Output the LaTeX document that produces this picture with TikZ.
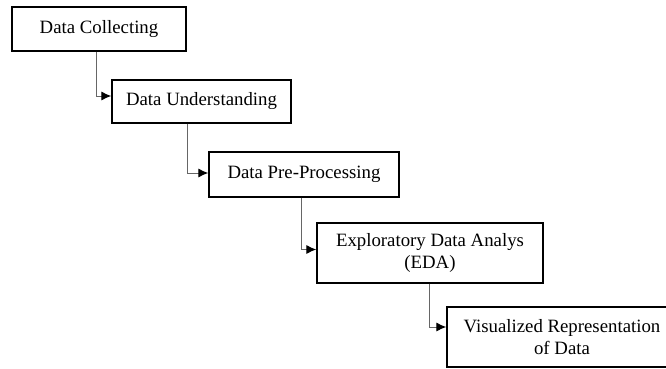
\documentclass[tikz,border=0pt]{standalone}
\usepackage{fontspec}
\setmainfont{Liberation Serif}
\usetikzlibrary{arrows.meta}
\begin{document}
\begin{tikzpicture}[x=1pt,y=-1pt,
  stage/.style={draw=black, line width=1.3pt, fill=white, rectangle, inner sep=0pt,
    align=center, font=\fontsize{18.8}{22}\selectfont},
  conn/.style={draw=black!60, line width=1pt, -{Latex[length=10pt,width=9pt,black]}}]
\useasboundingbox (0,0) rectangle (666,369);
\node[stage, minimum width=174pt, minimum height=44pt] (b1) at (99,29) {Data Collecting};
\node[stage, minimum width=179pt, minimum height=43pt] (b2) at (201.5,101.5) {Data Understanding};
\node[stage, minimum width=190pt, minimum height=45pt] (b3) at (304,174.5) {Data Pre-Processing};
\node[stage, minimum width=226pt, minimum height=60pt] (b4) at (430,253) {Exploratory Data Analys\\(EDA)};
\node[stage, minimum width=230pt, minimum height=60pt] (b5) at (562,337) {Visualized Representation\\of Data};
\draw[conn] ([xshift=-3pt]b1.south) |- ([yshift=5.5pt]b2.west);
\draw[conn] ([xshift=-14.5pt]b2.south) |- ([yshift=1.5pt]b3.west);
\draw[conn] ([xshift=-3pt]b3.south) |- ([yshift=3.5pt]b4.west);
\draw[conn] ([xshift=-1pt]b4.south) |- ([yshift=10pt]b5.west);
\end{tikzpicture}
\end{document}
